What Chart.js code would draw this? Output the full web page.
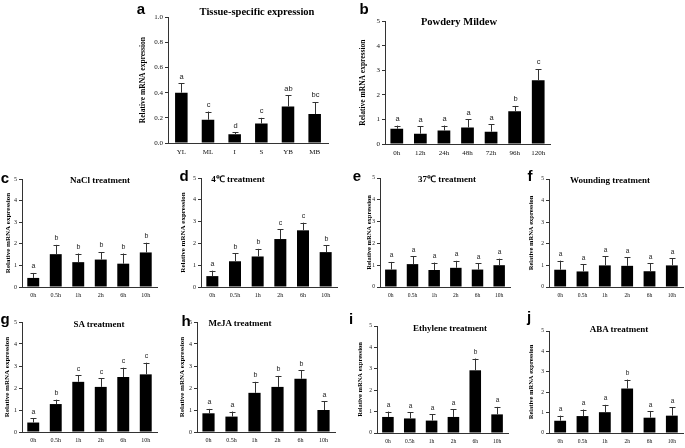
<!DOCTYPE html>
<html>
<head>
<meta charset="utf-8">
<script src="https://cdn.jsdelivr.net/npm/chart.js@4.4.1/dist/chart.umd.min.js"></script>
<style>
  body { margin: 0; background: #fff; width: 685px; height: 448px; position: relative; overflow: hidden; }
  canvas { position: absolute; }
  .tag { position: absolute; font: bold 15px "Liberation Sans", Arial, sans-serif; transform: translate(-50%, -50%); color: #000; }
  .ttl { position: absolute; font-family: "Liberation Serif", "Times New Roman", serif; font-weight: bold; white-space: nowrap; transform: translate(-50%, -50%); color: #000; }
</style>
</head>
<body>
<script>
// categories
const tissueLabels = ['YL', 'ML', 'I', 'S', 'YB', 'MB'];
const mildewLabels = ['0h', '12h', '24h', '48h', '72h', '96h', '120h'];
const timeLabels = ['0h', '0.5h', '1h', '2h', '6h', '10h'];

// a - tissue
const tissueMean = [0.40, 0.185, 0.07, 0.155, 0.29, 0.23];
const tissueErr = [0.075, 0.065, 0.015, 0.045, 0.09, 0.095];
const tissueSig = ['a', 'c', 'd', 'c', 'ab', 'bc'];
// b - powdery mildew
const mildewMean = [0.62, 0.42, 0.55, 0.67, 0.50, 1.33, 2.60];
const mildewErr = [0.13, 0.30, 0.20, 0.33, 0.30, 0.22, 0.45];
const mildewSig = ['a', 'a', 'a', 'a', 'a', 'b', 'c'];
// c - NaCl
const naclMean = [0.42, 1.52, 1.15, 1.27, 1.08, 1.60];
const naclErr = [0.23, 0.43, 0.40, 0.35, 0.47, 0.45];
const naclSig = ['a', 'b', 'b', 'b', 'b', 'b'];
// d - 4C
const coldMean = [0.50, 1.18, 1.40, 2.20, 2.60, 1.60];
const coldErr = [0.25, 0.37, 0.35, 0.45, 0.35, 0.32];
const coldSig = ['a', 'b', 'b', 'c', 'c', 'b'];
// e - 37C
const heatMean = [0.80, 1.05, 0.78, 0.88, 0.80, 1.00];
const heatErr = [0.35, 0.35, 0.34, 0.32, 0.28, 0.30];
const heatSig = ['a', 'a', 'a', 'a', 'a', 'a'];
// f - wounding
const woundMean = [0.80, 0.72, 1.00, 0.98, 0.73, 1.00];
const woundErr = [0.42, 0.33, 0.42, 0.40, 0.37, 0.32];
const woundSig = ['a', 'a', 'a', 'a', 'a', 'a'];
// g - SA
const saMean = [0.43, 1.27, 2.28, 2.05, 2.50, 2.62];
const saErr = [0.19, 0.20, 0.30, 0.40, 0.42, 0.53];
const saSig = ['a', 'b', 'c', 'c', 'c', 'c'];
// h - MeJA
const mejaMean = [0.85, 0.70, 1.78, 2.05, 2.42, 1.00];
const mejaErr = [0.20, 0.23, 0.50, 0.50, 0.38, 0.40];
const mejaSig = ['a', 'a', 'b', 'b', 'b', 'a'];
// i - ethylene
const ethMean = [0.75, 0.68, 0.58, 0.75, 2.93, 0.87];
const ethErr = [0.25, 0.30, 0.29, 0.37, 0.55, 0.35];
const ethSig = ['a', 'a', 'a', 'a', 'b', 'a'];
// j - ABA
const abaMean = [0.60, 0.83, 1.02, 2.18, 0.75, 0.85];
const abaErr = [0.25, 0.32, 0.36, 0.44, 0.33, 0.42];
const abaSig = ['a', 'a', 'a', 'b', 'a', 'a'];

const serif = '"Liberation Serif", "Times New Roman", serif';
const sans = '"Liberation Sans", Arial, sans-serif';

// error bars + significance letters drawn on top of the bars
const errorBars = {
  id: 'errorBars',
  afterDatasetsDraw(chart) {
    const ds = chart.data.datasets[0];
    const meta = chart.getDatasetMeta(0);
    const y = chart.scales.y;
    const ctx = chart.ctx;
    ctx.save();
    ctx.strokeStyle = '#333';
    ctx.lineWidth = 1;
    ctx.fillStyle = '#222';
    ctx.font = ds.sigFont;
    ctx.textAlign = 'center';
    ctx.textBaseline = 'bottom';
    meta.data.forEach((bar, i) => {
      const top = y.getPixelForValue(ds.data[i] + ds.err[i]);
      const x = Math.round(bar.x) + 0.5;
      ctx.beginPath();
      ctx.moveTo(x, bar.y);
      ctx.lineTo(x, top);
      ctx.moveTo(x - 3, Math.round(top) + 0.5);
      ctx.lineTo(x + 3, Math.round(top) + 0.5);
      ctx.stroke();
      ctx.fillText(ds.sig[i], x, top - 3);
    });
    ctx.restore();
  }
};

function panel(tag, title, titlePos, tagPos, g, labels, mean, err, sig, opt) {
  const L = g.labelX - 6;
  const yw = g.axisX - L;
  const pt = 6;
  const T = g.top - pt;
  const xh = 16;
  const H = g.bottom - T + xh;
  const W = g.right - L + 2;
  const lh = opt.labelSize * 1.2;

  const cv = document.createElement('canvas');
  cv.width = W;
  cv.height = H;
  cv.style.left = L + 'px';
  cv.style.top = T + 'px';
  document.body.appendChild(cv);

  const t = document.createElement('div');
  t.className = 'ttl';
  t.textContent = title;
  t.style.fontSize = titlePos[2] + 'px';
  t.style.left = titlePos[0] + 'px';
  t.style.top = titlePos[1] + 'px';
  document.body.appendChild(t);

  const k = document.createElement('div');
  k.className = 'tag';
  k.textContent = tag;
  k.style.left = tagPos[0] + 'px';
  k.style.top = tagPos[1] + 'px';
  document.body.appendChild(k);

  new Chart(cv, {
    type: 'bar',
    data: {
      labels: labels,
      datasets: [{
        data: mean,
        err: err,
        sig: sig,
        sigFont: opt.sigSize + 'px ' + sans,
        backgroundColor: '#000',
        borderWidth: 0,
        categoryPercentage: 1,
        barPercentage: opt.barPct
      }]
    },
    options: {
      responsive: false,
      animation: false,
      layout: { padding: { top: pt, right: 2, left: 0, bottom: 0 } },
      plugins: { legend: { display: false }, tooltip: { enabled: false } },
      scales: {
        x: {
          grid: { display: false, drawTicks: false },
          border: { display: true, color: '#333', width: 1 },
          ticks: { color: '#111', font: { family: serif, size: opt.tickSize }, padding: 5, maxRotation: 0, autoSkip: false },
          afterFit(s) { s.height = xh; }
        },
        y: {
          min: 0,
          max: opt.yMax,
          grid: { display: true, drawOnChartArea: false, drawTicks: true, tickLength: 3, color: '#333' },
          border: { display: true, color: '#333', width: 1 },
          ticks: {
            stepSize: opt.step,
            color: '#111',
            padding: 2,
            font: { family: serif, size: opt.tickSize },
            callback: v => opt.step < 1 ? v.toFixed(1) : v
          },
          title: {
            display: true,
            text: 'Relative mRNA expression',
            color: '#000',
            font: { family: serif, size: opt.labelSize, weight: 'bold' },
            padding: { top: 6 - lh / 2, bottom: 0 }
          },
          afterFit(s) { s.width = yw; }
        }
      }
    },
    plugins: [errorBars]
  });
}

const big = { yMax: 1, step: 0.2, tickSize: 7, labelSize: 7.5, sigSize: 7.5, barPct: 0.47 };
const bigB = { yMax: 5, step: 1, tickSize: 7, labelSize: 7.5, sigSize: 7.5, barPct: 0.54 };
const small = { yMax: 5, step: 1, tickSize: 6, labelSize: 7, sigSize: 7, barPct: 0.53 };
const tiny = { yMax: 5, step: 1, tickSize: 5.5, labelSize: 6.5, sigSize: 6.5, barPct: 0.53 };

panel('a', 'Tissue-specific expression', [257, 11, 10.5], [141, 8],
  { axisX: 168, right: 328, top: 17, bottom: 143, labelX: 143 },
  tissueLabels, tissueMean, tissueErr, tissueSig, big);
panel('b', 'Powdery Mildew', [459, 21, 10.5], [364, 8],
  { axisX: 385, right: 550, top: 21, bottom: 144, labelX: 363 },
  mildewLabels, mildewMean, mildewErr, mildewSig, bigB);
panel('c', 'NaCl treatment', [100, 180, 9], [5, 177],
  { axisX: 22, right: 157, top: 179, bottom: 287, labelX: 8 },
  timeLabels, naclMean, naclErr, naclSig, small);
panel('d', '4\u2103 treatment', [238, 178, 9], [184, 175],
  { axisX: 201, right: 337, top: 178, bottom: 287, labelX: 183 },
  timeLabels, coldMean, coldErr, coldSig, small);
panel('e', '37\u2103 treatment', [447, 178, 9], [357, 175],
  { axisX: 380, right: 510, top: 178, bottom: 287, labelX: 369 },
  timeLabels, heatMean, heatErr, heatSig, tiny);
panel('f', 'Wounding treatment', [610, 180, 9], [530, 175],
  { axisX: 549, right: 683, top: 179, bottom: 287, labelX: 531 },
  timeLabels, woundMean, woundErr, woundSig, tiny);
panel('g', 'SA treatment', [99, 324, 9], [5, 318],
  { axisX: 22, right: 157, top: 322, bottom: 432, labelX: 7 },
  timeLabels, saMean, saErr, saSig, small);
panel('h', 'MeJA treatment', [240, 323, 9], [186, 320],
  { axisX: 197, right: 335, top: 322, bottom: 432, labelX: 182 },
  timeLabels, mejaMean, mejaErr, mejaSig, small);
panel('i', 'Ethylene treatment', [450, 328, 9], [351, 318],
  { axisX: 377, right: 508, top: 326, bottom: 433, labelX: 360 },
  timeLabels, ethMean, ethErr, ethSig, tiny);
panel('j', 'ABA treatment', [619, 329, 9], [529, 316],
  { axisX: 549, right: 683, top: 331, bottom: 433, labelX: 531 },
  timeLabels, abaMean, abaErr, abaSig, tiny);
</script>
</body>
</html>
